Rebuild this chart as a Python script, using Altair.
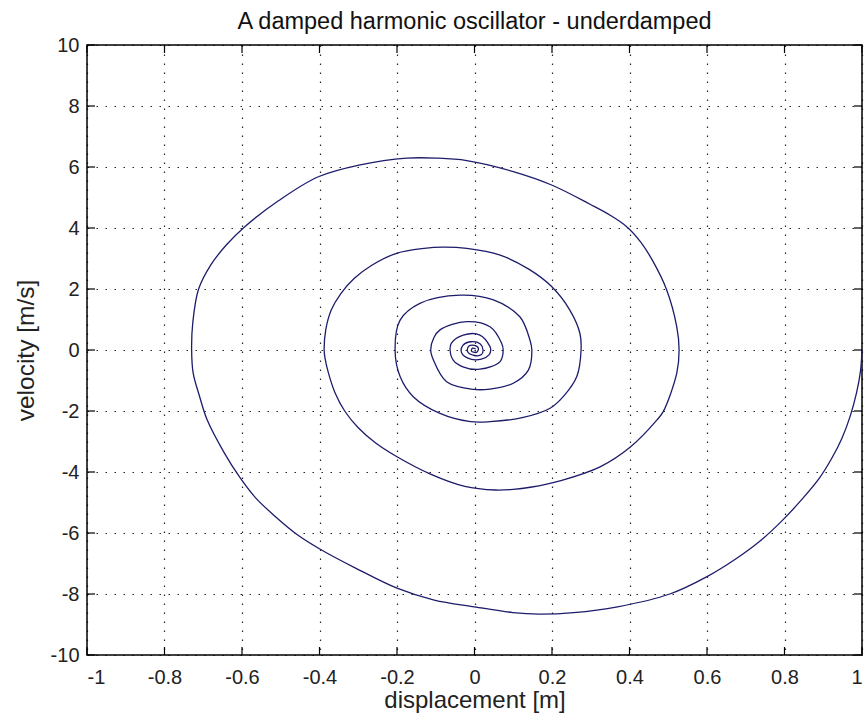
import altair as alt
import pandas as pd

# trajectory (displacement [m], velocity [m/s]), in drawing order
disp = [1.000, 0.996, 0.986, 0.970, 0.948, 0.922, 0.890, 0.842, 0.792, 0.741, 0.673, 0.600, 0.504, 0.369, 0.256,
        0.166, 0.099, 0.000, -0.104, -0.200, -0.307, -0.397, -0.459, -0.515, -0.566, -0.606, -0.645, -0.690,
        -0.710, -0.726, -0.730, -0.727, -0.712, -0.680, -0.640, -0.595, -0.505, -0.403, -0.295, -0.175, -0.098,
        -0.020, 0.100, 0.199, 0.298, 0.350, 0.395, 0.430, 0.460, 0.496, 0.522, 0.528, 0.522, 0.487, 0.471,
        0.403, 0.324, 0.223, 0.144, 0.100, 0.054, -0.025, -0.115, -0.200, -0.255, -0.300, -0.335, -0.360,
        -0.377, -0.386, -0.388, -0.384, -0.370, -0.345, -0.310, -0.265, -0.201, -0.130, -0.081, -0.020, 0.066,
        0.140, 0.199, 0.246, 0.272, 0.275, 0.264, 0.229, 0.195, 0.126, 0.040, -0.010, -0.089, -0.158, -0.192,
        -0.205, -0.192, -0.141, -0.037, 0.049, 0.117, 0.143, 0.148, 0.139, 0.100, 0.040, -0.003, -0.072,
        -0.106, -0.113, -0.105, -0.089, -0.020, 0.040, 0.070, 0.074, 0.066, 0.014, -0.030, -0.055, -0.063,
        -0.060, -0.029, 0.014, 0.040, 0.042, 0.038, 0.018, -0.010, -0.033, -0.030, -0.010, 0.015, 0.022,
        0.018, 0.000, -0.018, -0.015, 0.000, 0.010, 0.005, -0.008, -0.005, 0.003]
vel = [0.00, -0.70, -1.40, -2.15, -2.90, -3.55, -4.20, -4.94, -5.62, -6.22, -6.86, -7.43, -8.00, -8.42, -8.61,
       -8.66, -8.61, -8.42, -8.20, -7.81, -7.15, -6.54, -6.04, -5.45, -4.83, -4.17, -3.39, -2.29,
       -1.50, -0.76, 0.00, 0.90, 2.00, 2.80, 3.45, 4.02, 4.90, 5.68, 6.07, 6.29, 6.29,
       6.21, 5.85, 5.41, 4.78, 4.42, 4.02, 3.52, 2.92, 1.97, 0.76, 0.00, -0.76, -2.02, -2.29,
       -3.17, -3.83, -4.28, -4.50, -4.57, -4.59, -4.47, -4.06, -3.50, -3.05, -2.55, -2.00, -1.40,
       -0.75, -0.25, 0.00, 0.65, 1.30, 1.85, 2.35, 2.78, 3.17, 3.33, 3.37, 3.33, 3.11,
       2.65, 2.08, 1.31, 0.55, 0.00, -0.87, -1.53, -1.91, -2.21, -2.35, -2.35, -2.08, -1.53, -0.87,
       0.00, 0.98, 1.53, 1.80, 1.64, 1.09, 0.33, 0.00, -0.66, -1.09, -1.28, -1.29, -1.04,
       -0.33, 0.00, 0.40, 0.66, 0.93, 0.76, 0.22, 0.00, -0.38, -0.63, -0.55, -0.33, 0.00,
       0.22, 0.49, 0.49, 0.11, 0.00, -0.15, -0.30, -0.30, -0.10, 0.15, 0.27, 0.20, 0.00,
       -0.15, -0.18, -0.05, 0.12, 0.15, 0.05, -0.08, -0.03, 0.06, 0.04]

x_ticks = [-1, -0.8, -0.6, -0.4, -0.2, 0, 0.2, 0.4, 0.6, 0.8, 1]
y_ticks = [-10, -8, -6, -4, -2, 0, 2, 4, 6, 8, 10]

W, H = 775, 610
FONT = "Liberation Sans"

df = pd.DataFrame({"i": list(range(len(disp))), "x": disp, "v": vel})
xt = pd.DataFrame({"t": x_ticks})
yt = pd.DataFrame({"t": y_ticks})

xscale = alt.Scale(domain=[-1, 1], nice=False, zero=False)
yscale = alt.Scale(domain=[-10, 10], nice=False, zero=False)

x_label = ("datum.value < 0 ? '-' + format(-datum.value, '.1~f') : "
           "(datum.value == 0 ? '0' : format(datum.value, '.1~f'))")
y_label = "datum.value < 0 ? '-' + format(-datum.value, 'd') : format(datum.value, 'd')"

line = alt.Chart(df).mark_line(color="#1c1c6b", strokeWidth=1.3, interpolate="catmull-rom").encode(
    x=alt.X("x:Q", scale=xscale, title="displacement [m]",
            axis=alt.Axis(values=x_ticks, tickSize=0, labelPadding=12, titlePadding=1,
                          titleFontSize=24, labelExpr=x_label)),
    y=alt.Y("v:Q", scale=yscale, title="velocity [m/s]",
            axis=alt.Axis(values=y_ticks, tickSize=0, labelPadding=8, titlePadding=12,
                          titleFontSize=24.5, labelExpr=y_label)),
    order="i:Q",
)

tk = 8
top_ticks = alt.Chart(xt).mark_rule(color="#000", strokeWidth=1.2).encode(
    x=alt.X("t:Q", scale=xscale), y=alt.value(0), y2=alt.value(tk))
bot_ticks = alt.Chart(xt).mark_rule(color="#000", strokeWidth=1.2).encode(
    x=alt.X("t:Q", scale=xscale), y=alt.value(H), y2=alt.value(H - tk))
left_ticks = alt.Chart(yt).mark_rule(color="#000", strokeWidth=1.2).encode(
    y=alt.Y("t:Q", scale=yscale), x=alt.value(0), x2=alt.value(tk))
right_ticks = alt.Chart(yt).mark_rule(color="#000", strokeWidth=1.2).encode(
    y=alt.Y("t:Q", scale=yscale), x=alt.value(W), x2=alt.value(W - tk))

chart = alt.layer(line, top_ticks, bot_ticks, left_ticks, right_ticks).properties(
    width=W, height=H,
    background="white",
    title=alt.TitleParams("A damped harmonic oscillator - underdamped", font=FONT, fontSize=23.5,
                          fontWeight="normal", color="#111", offset=2, anchor="middle"),
    autosize=alt.AutoSizeParams(type="none"),
    padding={"left": 87, "top": 45, "right": 3, "bottom": 66},
).configure_view(
    stroke="#000", strokeWidth=1.5
).configure_axis(
    domain=False,
    grid=True, gridColor="#000", gridDash=[1.5, 7.5], gridWidth=1.2, gridOpacity=0.85,
    labelFont=FONT, labelFontSize=20, labelColor="#222",
    titleFont=FONT, titleFontWeight="normal", titleColor="#222",
)

chart.save("out.html", embed_options={"renderer": "svg", "actions": False})
